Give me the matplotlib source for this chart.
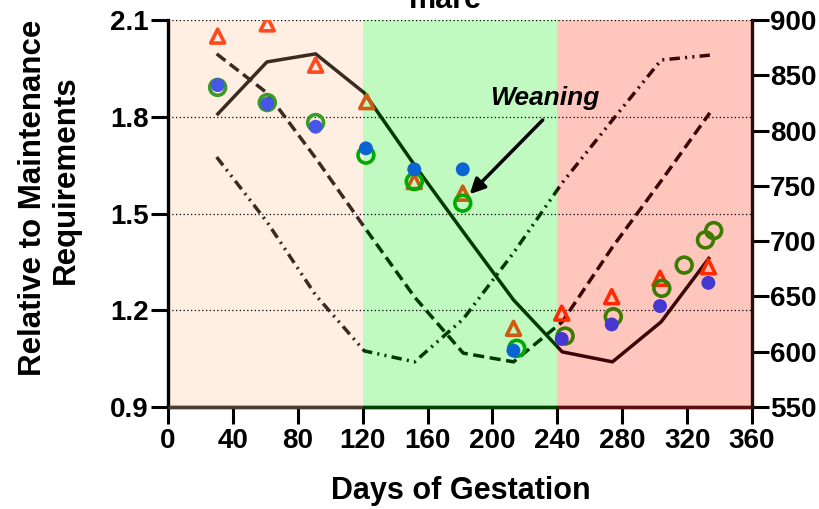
import matplotlib
matplotlib.use("Agg")
import matplotlib.pyplot as plt
from matplotlib.transforms import Bbox, TransformedBbox, blended_transform_factory

plt.rcParams['font.family'] = ['Liberation Sans', 'DejaVu Sans']
plt.rcParams['font.weight'] = 'bold'

# ---------------- data ----------------
stage_bounds = [0, 120, 240, 360]
stage_bg = ['#FFEEE2', '#C0FAC0', '#FFC6BE']
stage_line_colors = ['#3B2A20', '#003A00', '#3A0606']
stage_axis_colors = ['#4A3C30', '#004000', '#5A1010']

line_days = [30, 61, 91, 121, 152, 182, 213, 243, 274, 304, 334]
solid_vals = [1.805, 1.970, 1.995, 1.874, 1.650, 1.443, 1.232, 1.071, 1.040, 1.164, 1.365]
dashed_vals = [1.995, 1.874, 1.672, 1.458, 1.241, 1.067, 1.040, 1.164, 1.396, 1.601, 1.812]
dashdot_vals = [1.675, 1.474, 1.247, 1.074, 1.040, 1.173, 1.378, 1.595, 1.790, 1.976, 1.991]

tri_days = [30.6, 61.2, 91, 122.5, 151.8, 181.7, 213, 242.7, 273.5, 303.3, 333.1]
tri_vals = [2.050, 2.088, 1.960, 1.847, 1.599, 1.563, 1.144, 1.191, 1.242, 1.299, 1.335]
tri_colors = ['#FF4A20', '#D05A10', '#FF2A00']

circ_days = [30.6, 61.2, 91, 122, 151.8, 181.7, 215, 244.8, 274.5, 304.4, 318.2, 331.3, 336.4]
circ_vals = [1.891, 1.844, 1.782, 1.681, 1.599, 1.532, 1.082, 1.120, 1.180, 1.268, 1.340, 1.418, 1.447]
circ_colors = ['#3C9A28', '#00AA00', '#3C7A00']

dot_days = [30.6, 61.2, 91, 122, 151.8, 181.7, 212.9, 242.7, 273.5, 303.3, 333.1]
dot_vals = [1.898, 1.840, 1.769, 1.702, 1.637, 1.637, 1.075, 1.111, 1.156, 1.213, 1.285]
dot_colors = ['#4656E8', '#0A64D2', '#4438D0']

x_ticks = [0, 40, 80, 120, 160, 200, 240, 280, 320, 360]
y_ticks = [0.9, 1.2, 1.5, 1.8, 2.1]
y_tick_labels = ['0.9', '1.2', '1.5', '1.8', '2.1']
y2_ticks = [550, 600, 650, 700, 750, 800, 850, 900]

def stage_of(day):
    for i in range(len(stage_bounds) - 1):
        if day < stage_bounds[i + 1]:
            return i
    return len(stage_bounds) - 2

# ---------------- figure ----------------
fig = plt.figure(figsize=(8.2, 5.09), dpi=100)
ax = fig.add_axes([168/820, 1 - 407/509, 584/820, 387/509])
ax.set_xlim(0, 360)
ax.set_ylim(0.9, 2.1)

for i in range(3):
    ax.axvspan(stage_bounds[i], stage_bounds[i+1], color=stage_bg[i], zorder=0, lw=0)

ax.set_axisbelow(True)
ax.yaxis.grid(True, linestyle=(0, (1, 2)), color='black', lw=0.9)

blend = blended_transform_factory(ax.transData, ax.transAxes)

line_specs = [
    (solid_vals, '-'),
    (dashed_vals, (0, (3.2, 1.6))),
    (dashdot_vals, (0, (3.0, 1.5, 0.6, 1.5, 0.6, 1.5))),
]
for vals, ls in line_specs:
    for i in range(3):
        ln, = ax.plot(line_days, vals, color=stage_line_colors[i], lw=2.5,
                      linestyle=ls, zorder=3, solid_capstyle='butt')
        bb = Bbox([[stage_bounds[i], -0.1], [stage_bounds[i+1], 1.1]])
        ln.set_clip_box(TransformedBbox(bb, blend))

# markers
ax.scatter(tri_days, tri_vals, marker='^', s=100, facecolors='none',
           edgecolors=[tri_colors[stage_of(d)] for d in tri_days], linewidths=2.6, zorder=4)
ax.scatter(circ_days, circ_vals, marker='o', s=130, facecolors='none',
           edgecolors=[circ_colors[stage_of(d)] for d in circ_days], linewidths=2.6, zorder=5)
ax.scatter(dot_days, dot_vals, marker='o', s=100,
           color=[dot_colors[stage_of(d)] for d in dot_days], linewidths=0, zorder=6)

# spines
ax.spines['top'].set_visible(False)
ax.spines['left'].set_linewidth(2.4)
ax.spines['bottom'].set_linewidth(2.4)
ax.spines['right'].set_visible(False)
for i in range(3):
    ax.plot([stage_bounds[i], stage_bounds[i+1]], [0, 0], transform=blend,
            color=stage_axis_colors[i], lw=2.4, clip_on=False, zorder=7,
            solid_capstyle='butt')

ax.set_xticks(x_ticks)
ax.set_yticks(y_ticks)
ax.set_yticklabels(y_tick_labels)
ax.tick_params(axis='both', direction='out', length=12, width=2.2, labelsize=20)
ax.tick_params(axis='x', pad=3)
ax.tick_params(axis='y', pad=2)
for lab in ax.get_xticklabels() + ax.get_yticklabels():
    lab.set_fontweight('bold')

ax2 = ax.twinx()
ax2.set_ylim(550, 900)
ax2.set_yticks(y2_ticks)
for s in ['top', 'left', 'bottom']:
    ax2.spines[s].set_visible(False)
ax2.spines['right'].set_linewidth(2.4)
ax2.spines['right'].set_color('#2A0E0E')
ax2.tick_params(axis='y', direction='out', length=12, width=2.2, labelsize=20, pad=1)
for lab in ax2.get_yticklabels():
    lab.set_fontweight('bold')

# annotation
ax.annotate('', xy=(186, 1.56), xytext=(231, 1.79),
            arrowprops=dict(arrowstyle='-|>,head_length=0.9,head_width=0.45',
                            color='black', lw=2.5, shrinkA=0, shrinkB=0), zorder=8)
fig.text(490/820, 1 - 105/509, 'Weaning', fontsize=19, fontweight='bold',
         fontstyle='italic', ha='left', va='baseline')

# labels
fig.text(461/820, 1 - 499/509, 'Days of Gestation', fontsize=22, fontweight='bold',
         ha='center', va='baseline')
fig.text(33/820, 1 - 198/509, 'Relative to Maintenance', fontsize=22.5, fontweight='bold',
         rotation=90, ha='center', va='center')
fig.text(66/820, 1 - 180/509, 'Requirements', fontsize=22.5, fontweight='bold',
         rotation=90, ha='center', va='center')
fig.text(445/820, 1 - 8/509, 'mare', fontsize=22, fontweight='bold',
         ha='center', va='baseline')

fig.savefig('out.png', dpi=100)
